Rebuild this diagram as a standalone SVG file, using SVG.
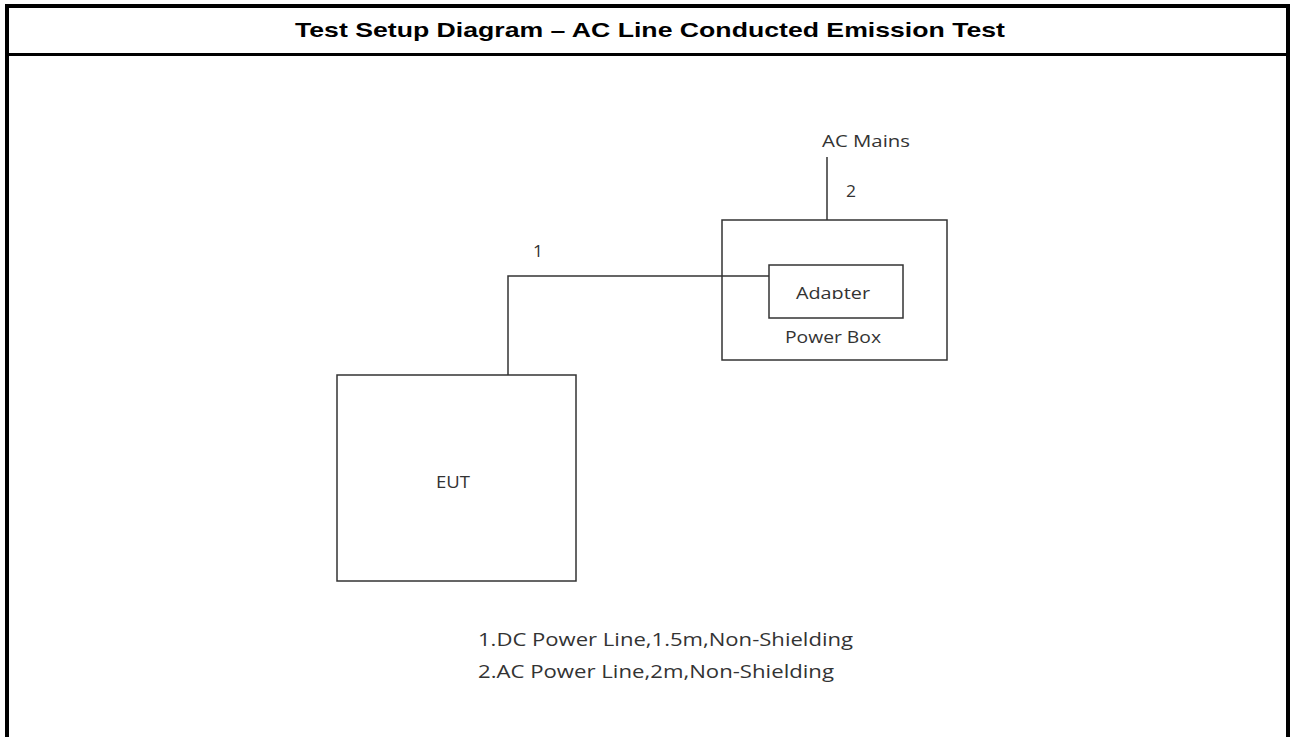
<svg xmlns="http://www.w3.org/2000/svg" width="1293" height="737" viewBox="0 0 1293 737">
<style>
.frame{fill:none;stroke:#000;stroke-width:4}
.hdr{stroke:#000;stroke-width:3}
.box{fill:none;stroke:#333;stroke-width:1.5}
.wire{fill:none;stroke:#333;stroke-width:1.5}
.lbl{font-family:"Open Sans","Noto Sans",sans-serif;font-size:17px;fill:#333}
.note{font-family:"Open Sans","Noto Sans",sans-serif;font-size:19px;fill:#333}
.title{font-family:"Liberation Sans",Arial,sans-serif;font-weight:bold;font-size:21px;fill:#000}
</style>
<defs>
<clipPath id="adClip"><rect x="769" y="265" width="134" height="34"/></clipPath>
</defs>
<rect width="1293" height="737" fill="#fff"/>
<g id="frame">
<path class="frame" d="M7,740 V6 H1288 V740"/>
<line class="hdr" x1="7" y1="54.5" x2="1288" y2="54.5"/>
<text class="title" x="295" y="37" textLength="710" lengthAdjust="spacingAndGlyphs">Test Setup Diagram – AC Line Conducted Emission Test</text>
</g>
<g id="connectors">
<polyline class="wire" points="769,276 508,276 508,375"/>
<line class="wire" x1="827" y1="157" x2="827" y2="220"/>
<text class="lbl" x="533" y="257" textLength="10" lengthAdjust="spacingAndGlyphs">1</text>
<text class="lbl" x="846" y="197" textLength="10" lengthAdjust="spacingAndGlyphs">2</text>
</g>
<g id="ac-mains">
<text class="lbl" x="822" y="147" textLength="88" lengthAdjust="spacingAndGlyphs">AC Mains</text>
</g>
<g id="power-box">
<rect class="box" x="722" y="220" width="225" height="140"/>
<text class="lbl" x="785" y="343" textLength="96" lengthAdjust="spacingAndGlyphs">Power Box</text>
</g>
<g id="adapter">
<rect class="box" x="769" y="265" width="134" height="53"/>
<text class="lbl" x="796" y="299" textLength="74" lengthAdjust="spacingAndGlyphs" clip-path="url(#adClip)">Adapter</text>
</g>
<g id="eut">
<rect class="box" x="337" y="375" width="239" height="206"/>
<text class="lbl" x="436" y="488" textLength="34" lengthAdjust="spacingAndGlyphs">EUT</text>
</g>
<g id="notes">
<text class="note" x="478" y="646" textLength="375" lengthAdjust="spacingAndGlyphs">1.DC Power Line,1.5m,Non-Shielding</text>
<text class="note" x="478" y="678" textLength="356" lengthAdjust="spacingAndGlyphs">2.AC Power Line,2m,Non-Shielding</text>
</g>
</svg>
